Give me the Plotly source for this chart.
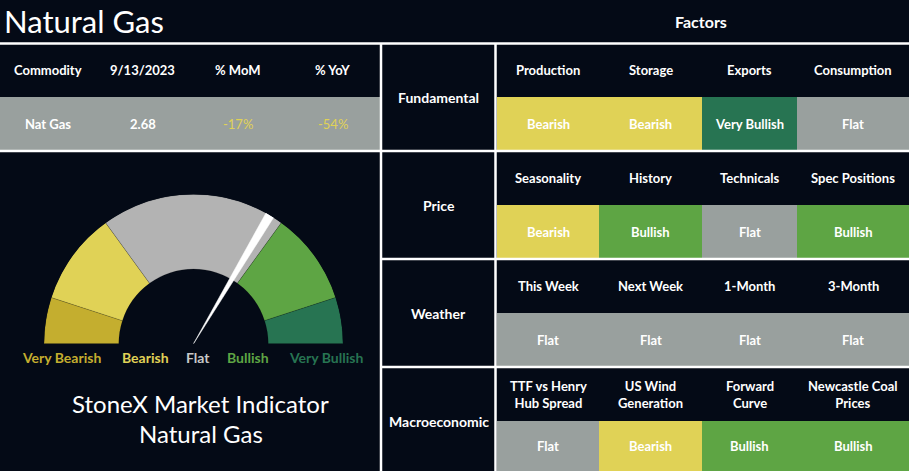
import plotly.graph_objects as go

# canvas
W, H = 909, 471
BG = '#040a16'
FONT = 'Lato'

# left summary table
commodity_header = ['Commodity', '9/13/2023', '% MoM', '% YoY']
commodity_row = ['Nat Gas', '2.68', '-17%', '-54%']
commodity_row_colors = ['white', 'white', '#e0d256', '#e0d256']

# gauge
gauge_labels = ['Very Bearish', 'Bearish', 'Flat', 'Bullish', 'Very Bullish']
gauge_spans = [18, 36, 72, 36, 18]          # degrees of the half circle
gauge_colors = ['#c4ae2f', '#e0d256', '#b3b3b3', '#5ea544', '#277452']
label_colors = ['#c4ae2f', '#e0d256', '#c8c8c8', '#5ea544', '#277452']
needle_angle = 120.7                         # degrees from the left end

# factor grid
factor_groups = ['Fundamental', 'Price', 'Weather', 'Macroeconomic']
factor_names = [
  ['Production', 'Storage', 'Exports', 'Consumption'],
  ['Seasonality', 'History', 'Technicals', 'Spec Positions'],
  ['This Week', 'Next Week', '1-Month', '3-Month'],
  ['TTF vs Henry<br>Hub Spread', 'US Wind<br>Generation', 'Forward<br>Curve', 'Newcastle Coal<br>Prices'],
]
factor_status = [
  ['Bearish', 'Bearish', 'Very Bullish', 'Flat'],
  ['Bearish', 'Bullish', 'Flat', 'Bullish'],
  ['Flat', 'Flat', 'Flat', 'Flat'],
  ['Flat', 'Bearish', 'Bullish', 'Bullish'],
]
status_colors = {'Very Bearish': '#c4ae2f', 'Bearish': '#e0d256', 'Flat': '#99a09e',
                 'Bullish': '#5ea544', 'Very Bullish': '#277452'}

# layout grid (pixels)
col_edges = [497, 599, 702, 797, 909]
row_tops = [44, 152, 260, 368]
row_mids = [97, 205, 313, 421]
row_bots = [151, 259, 367, 471]
left_cols = [0, 95, 190, 285, 380]

fig = go.Figure()
shapes = []
ann = []

def text(x, y, s, size=13, color='white', bold=False, xanchor='center'):
  ann.append(dict(x=x, y=y, xref='x', yref='y', text=('<b>%s</b>' % s) if bold else s,
                  showarrow=False, xanchor=xanchor, yanchor='middle',
                  font=dict(family=FONT, size=size, color=color)))

def rect(x0, y0, x1, y1, color):
  shapes.append(dict(type='rect', xref='x', yref='y', x0=x0, y0=y0, x1=x1, y1=y1,
                     fillcolor=color, line_width=0, layer='below'))

def line(x0, y0, x1, y1):
  shapes.append(dict(type='line', xref='x', yref='y', x0=x0, y0=y0, x1=x1, y1=y1,
                     line=dict(color='white', width=2.5)))

# titles
text(2, 21, 'Natural Gas', size=31, xanchor='left')
text(701, 21, 'Factors', size=16, bold=True)

# left table
rect(0, 97, 380, 150, '#99a09e')
for i in range(4):
  cx = (left_cols[i] + left_cols[i + 1]) / 2
  text(cx, 70, commodity_header[i], bold=True)
  text(cx, 124, commodity_row[i], color=commodity_row_colors[i], bold=(i < 2))

# factor grid
for r, grp in enumerate(factor_groups):
  text(438.5, row_mids[r], grp, size=14, bold=True)
  for c in range(4):
    cx = (col_edges[c] + col_edges[c + 1]) / 2
    st = factor_status[r][c]
    rect(col_edges[c], row_mids[r], col_edges[c + 1], row_bots[r], status_colors[st])
    text(cx, (row_tops[r] + row_mids[r]) / 2 - 0.5, factor_names[r][c], bold=True)
    text(cx, (row_mids[r] + row_bots[r]) / 2, st, bold=True)

# white grid lines
line(0, 43.5, W, 43.5)
line(0, 151, W, 151)
line(381, 259, W, 259)
line(381, 367, W, 367)
line(381, 43, 381, H)
line(495.5, 43, 495.5, H)

# gauge
thetas = []
acc = 0
for s in gauge_spans:
  thetas.append(acc + s / 2)
  acc += s
fig.add_trace(go.Barpolar(
  r=[0.5] * 5, base=0.5, theta=thetas, width=gauge_spans,
  marker=dict(color=gauge_colors, line=dict(color='rgba(0,0,0,0.25)', width=0.6)),
  hoverinfo='skip', showlegend=False))
fig.add_trace(go.Scatterpolar(
  r=[0, 1, 1, 0], theta=[needle_angle, needle_angle - 1.7, needle_angle + 1.7, needle_angle],
  mode='lines', fill='toself', fillcolor='white', line=dict(color='white', width=0.5),
  hoverinfo='skip', showlegend=False))

label_x = [61, 145, 198, 248, 326]
for lx, lab, col in zip(label_x, gauge_labels, label_colors):
  text(lx, 357, lab, size=14, color=col, bold=True)

text(200, 403, 'StoneX Market Indicator', size=24)
text(201, 433, 'Natural Gas', size=24)

# invisible point to keep the pixel axes alive
fig.add_trace(go.Scatter(x=[0], y=[0], mode='markers', marker_opacity=0,
                         hoverinfo='skip', showlegend=False))

fig.update_layout(
  width=W, height=H,
  margin=dict(l=0, r=0, t=0, b=0),
  paper_bgcolor=BG, plot_bgcolor=BG,
  xaxis=dict(range=[0, W], visible=False, domain=[0, 1], fixedrange=True),
  yaxis=dict(range=[H, 0], visible=False, domain=[0, 1], fixedrange=True),
  polar=dict(
    domain=dict(x=[44 / W, 343 / W], y=[(H - 344) / H, (H - 194) / H]),
    sector=[0, 180], bgcolor='rgba(0,0,0,0)',
    radialaxis=dict(visible=False, range=[0, 1]),
    angularaxis=dict(visible=False, direction='clockwise', rotation=180),
  ),
  shapes=shapes,
  annotations=ann,
)

# drop the default page margin so the figure sits at the window corner
fig.write_html("out.html", config={'displayModeBar': False},
               post_script="document.body.style.margin='0';document.body.style.background='%s';" % BG)
